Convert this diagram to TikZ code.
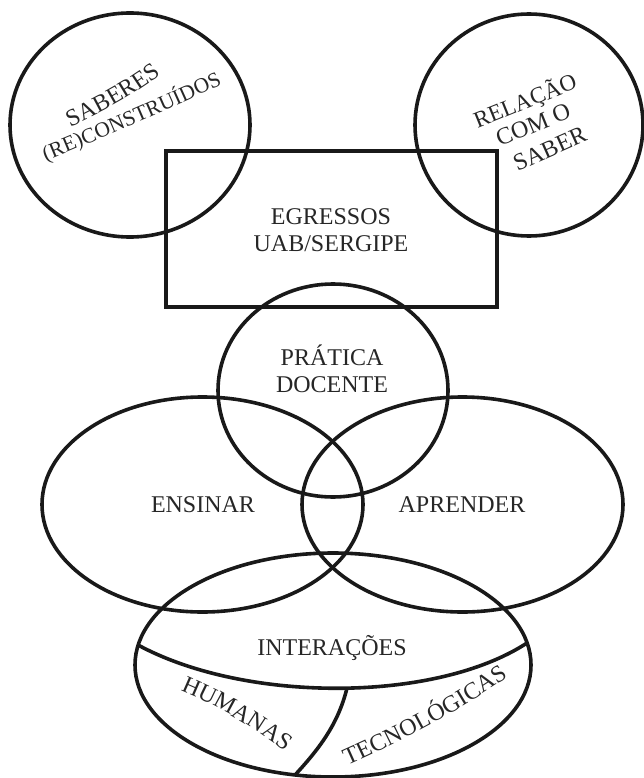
\documentclass[tikz,border=0pt]{standalone}
\usepackage{fontspec}
\setmainfont{Liberation Serif}
\usetikzlibrary{shapes.geometric,decorations.text}
\begin{document}
\begin{tikzpicture}[x=1pt,y=1pt,
  shapeline/.style={line width=3.6pt,draw=black!90},
  ell/.style={shapeline,ellipse,inner sep=0pt,minimum width=#1},
  lbl/.style={font=\fontsize{24}{27}\selectfont,align=center,text=black!85,inner sep=0pt},
  arctext/.style={decorate,decoration={text along path,text align=center,text color=black!85,text={#1}}}]
\useasboundingbox (0,0) rectangle (644,-778);
% top circles
\node[ell=240pt,minimum height=224pt] (sab) at (130,-125) {};
\node[ell=228pt,minimum height=222pt] (rel) at (529,-125) {};
% rectangle
\node[shapeline,rectangle,minimum width=331pt,minimum height=156pt,inner sep=0pt] (egr) at (331.5,-229) {};
% middle
\node[ell=230pt,minimum height=213pt] (pra) at (333,-390.5) {};
\node[ell=321pt,minimum height=215pt] (ens) at (202.5,-504.5) {};
\node[ell=321pt,minimum height=215pt] (apr) at (462.5,-504.5) {};
% bottom
\node[ell=396pt,minimum height=224pt] (int) at (333,-665) {};
\coordinate (dl) at (138,-645);
\coordinate (dr) at (527,-643);
\coordinate (dm) at (347,-688);
\coordinate (db) at (295,-775);
\draw[shapeline] (dl) .. controls (245,-703) and (435,-703) .. (dr);
\draw[shapeline] (dm) .. controls (338,-725) and (318,-750) .. (db);
% curved labels
\path[arctext={|\fontsize{24}{27}\selectfont|SABERES}] (64,-130) .. controls (98,-114) and (134,-96) .. (167,-70);
\path[arctext={|\fontsize{21.5}{27}\selectfont|(RE)CONSTRUÍDOS}] (34,-166) .. controls (100,-139) and (166,-111) .. (234,-79);
\path[arctext={|\fontsize{24}{27}\selectfont|HUMANAS}] (177,-689) .. controls (214,-704) and (250,-724) .. (288,-754);
\path[arctext={|\fontsize{24}{27}\selectfont|TECNOLÓGICAS}] (341,-768) .. controls (400,-742) and (455,-714) .. (514,-673);
% straight labels
\node[lbl,font=\fontsize{23}{27}\selectfont,rotate=22,anchor=base] (trel1) at (528,-108) {RELAÇÃO};
\node[lbl,rotate=22,anchor=base] (trel2) at (536,-132) {COM O};
\node[lbl,rotate=24,anchor=base] (trel3) at (553,-156) {SABER};
\node[lbl] (tegr) at (331,-230) {EGRESSOS\\UAB/SERGIPE};
\node[lbl] (tpra) at (332,-369) {PRÁTICA\\DOCENTE};
\node[lbl] (tens) at (203,-505) {ENSINAR};
\node[lbl] (tapr) at (462,-505) {APRENDER};
\node[lbl] (tint) at (332,-648) {INTERAÇÕES};
\end{tikzpicture}
\end{document}
